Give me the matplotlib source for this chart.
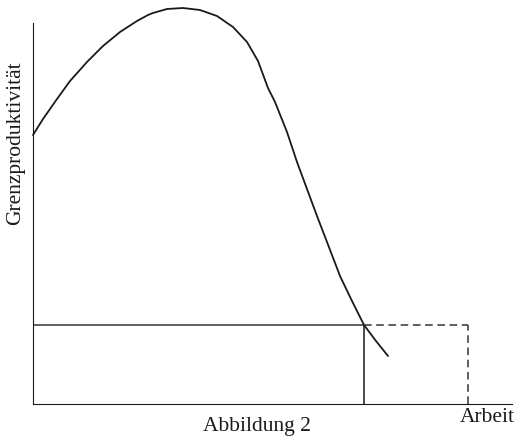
import matplotlib.pyplot as plt

# curve (Arbeit, Grenzproduktivitaet)
arbeit = [0, 10, 24, 37, 54, 70, 87, 104, 115, 120, 134, 150, 167, 184, 200, 214,
          225, 235, 242, 254, 264, 274, 284, 294, 307, 319, 331, 343, 355]
grenzprod = [269, 285, 305, 323, 342, 358, 372, 383, 389, 391, 395, 396, 394, 388, 377, 362,
             343, 316, 302, 272, 242, 215, 188, 162, 128, 103, 79, 63, 48]

# equilibrium point and the second labour amount
x_eq = 331
y_eq = 79
x_max = 435

plt.rcParams['font.family'] = ['Liberation Serif', 'DejaVu Serif']

fig = plt.figure(figsize=(5.18, 4.39), dpi=100)
ax = fig.add_axes([33 / 518, 34 / 439, 479 / 518, 381 / 439])

ax.plot(arbeit, grenzprod, color='#1a1a1a', lw=1.3, clip_on=False,
        solid_joinstyle='round', solid_capstyle='round')
ax.plot([0, x_eq], [y_eq, y_eq], color='#333333', lw=1.1)
ax.plot([x_eq, x_eq], [0, y_eq], color='#1a1a1a', lw=1.1)
ax.plot([x_eq, x_max], [y_eq, y_eq], color='#333333', lw=1.1, ls=(0, (5, 3)))
ax.plot([x_max, x_max], [0, y_eq], color='#333333', lw=1.1, ls=(0, (5, 3)))

ax.set_xlim(0, 479)
ax.set_ylim(0, 381)
ax.spines['top'].set_visible(False)
ax.spines['right'].set_visible(False)
ax.spines['left'].set_color('#1a1a1a')
ax.spines['bottom'].set_color('#1a1a1a')
ax.set_xticks([])
ax.set_yticks([])

fig.text(16 / 518, 1 - 143 / 439, "Grenzproduktivität", rotation=90,
         ha='center', va='center', fontsize=15.5, color='#1a1a1a')
fig.text(257 / 518, 1 - 427 / 439, "Abbildung 2", ha='center', va='center',
         fontsize=15.5, color='#1a1a1a')
fig.text(487 / 518, 1 - 418 / 439, "Arbeit", ha='center', va='center',
         fontsize=15.5, color='#1a1a1a')

plt.savefig("out.png", dpi=100)
